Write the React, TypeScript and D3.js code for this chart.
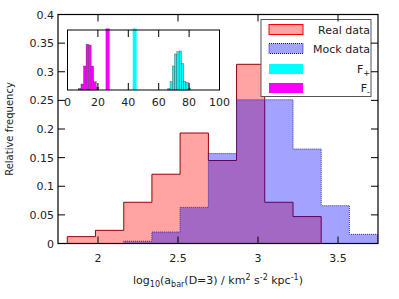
import React from "react";
import * as d3 from "d3";

// ---- data ----
const binEdges = [1.808, 1.984, 2.161, 2.337, 2.513, 2.69, 2.866, 3.042, 3.219, 3.395, 3.571, 3.747];
const realData = [0.012, 0.023, 0.072, 0.121, 0.193, 0.145, 0.313, 0.072, 0.047, 0, 0];
const mockData = [0, 0, 0.004, 0.02, 0.063, 0.157, 0.251, 0.251, 0.165, 0.066, 0.016];
const xTicks = [2, 2.5, 3, 3.5];
const yTicks = [0, 0.05, 0.1, 0.15, 0.2, 0.25, 0.3, 0.35, 0.4];

const insetMinusStart = 7.2;
const insetMinusWidth = 1.67;
const insetMinus = [2, 8, 32, 61, 60, 32, 11, 4];
const insetPlusStart = 66;
const insetPlusWidth = 1.49;
const insetPlus = [2, 11, 32, 48, 51, 52, 35, 11, 10, 2];
const fMinus = 26.4;
const fPlus = 44.2;
const insetTicks = [0, 20, 40, 60, 80, 100];

const legendItems = ["Real data", "Mock data", "F+", "F-"];

const W = 399, H = 299;
const M = { left: 58, right: 378, top: 14.5, bottom: 243.5 };
const FONT = "DejaVu Sans, sans-serif";

function stepPath(edges: number[], vals: number[], x: any, y: any) {
  const pts: [number, number][] = [[x(edges[0]), y(0)]];
  vals.forEach((v, i) => {
    pts.push([x(edges[i]), y(v)]);
    pts.push([x(edges[i + 1]), y(v)]);
  });
  pts.push([x(edges[edges.length - 1]), y(0)]);
  return d3.line()(pts) as string;
}

export default function App() {
  const x = d3.scaleLinear().domain([1.75, 3.75]).range([M.left, M.right]);
  const y = d3.scaleLinear().domain([0, 0.4]).range([M.bottom, M.top]);

  const ix = d3.scaleLinear().domain([0, 100]).range([67.5, 219.5]);
  const iy = d3.scaleLinear().domain([0, 80]).range([90, 30]);

  const redPath = stepPath(binEdges, realData, x, y);
  const bluePath = stepPath(binEdges, mockData, x, y);

  const tl = 7;

  const legX0 = 269, legX1 = 303, legTextX = 370;
  const legY = [29.5, 48.5, 69, 88];

  return (
    <svg width={W} height={H} style={{ position: "absolute", left: 0, top: 0, background: "#fff" }} fontFamily={FONT}>
      <rect x={0} y={0} width={W} height={H} fill="#fff" />
      {/* histograms */}
      <path d={redPath} fill="rgba(255,0,0,0.36)" stroke="#9a0000" strokeWidth={1} />
      <path d={bluePath} fill="rgba(0,0,255,0.36)" stroke="#3030a0" strokeWidth={1} strokeDasharray="1,1" />

      {/* inset */}
      <g>
        <rect x={ix(0)} y={iy(80)} width={ix(100) - ix(0)} height={iy(0) - iy(80)} fill="#fff" />
        {insetMinus.map((v, i) => (
          <rect key={"m" + i} x={ix(insetMinusStart + i * insetMinusWidth)} y={iy(v)}
            width={ix(insetMinusStart + (i + 1) * insetMinusWidth) - ix(insetMinusStart + i * insetMinusWidth)}
            height={iy(0) - iy(v)} fill="#ff00ff" stroke="#444" strokeWidth={0.4} />
        ))}
        {insetPlus.map((v, i) => (
          <rect key={"p" + i} x={ix(insetPlusStart + i * insetPlusWidth)} y={iy(v)}
            width={ix(insetPlusStart + (i + 1) * insetPlusWidth) - ix(insetPlusStart + i * insetPlusWidth)}
            height={iy(0) - iy(v)} fill="#00ffff" stroke="#444" strokeWidth={0.4} />
        ))}
        <line x1={ix(fMinus)} x2={ix(fMinus)} y1={iy(0)} y2={iy(80) - 1.5} stroke="#ff00ff" strokeWidth={4} />
        <line x1={ix(fPlus)} x2={ix(fPlus)} y1={iy(0)} y2={iy(80) - 1.5} stroke="#00ffff" strokeWidth={4} />
        <rect x={ix(0)} y={iy(80)} width={ix(100) - ix(0)} height={iy(0) - iy(80)} fill="none" stroke="#000" strokeWidth={1} />
        {insetTicks.slice(1, -1).map((t) => (
          <g key={"it" + t}>
            <line x1={ix(t)} x2={ix(t)} y1={iy(80)} y2={iy(80) + tl} stroke="#000" />
            <line x1={ix(t)} x2={ix(t)} y1={iy(0)} y2={iy(0) - tl} stroke="#000" />
          </g>
        ))}
        {insetTicks.map((t) => (
          <text key={"itl" + t} x={ix(t)} y={iy(0) + 15.5} textAnchor="middle" fontSize={11} fill="#222">{t}</text>
        ))}
      </g>

      {/* legend */}
      <g>
        <rect x={261} y={19.5} width={110} height={77} fill="#fff" stroke="#555" strokeWidth={1} />
        {legendItems.map((name, i) => {
          const yy = legY[i];
          let sw;
          if (i === 0) sw = <rect x={legX0} y={yy - 5} width={legX1 - legX0} height={10} fill="rgba(255,0,0,0.36)" stroke="#ff0000" strokeWidth={1} />;
          else if (i === 1) sw = <rect x={legX0} y={yy - 5} width={legX1 - legX0} height={10} fill="rgba(0,0,255,0.36)" stroke="#0000ff" strokeWidth={1} strokeDasharray="1,1" />;
          else if (i === 2) sw = <rect x={legX0} y={yy - 5} width={legX1 - legX0} height={10} fill="#00ffff" />;
          else sw = <rect x={legX0} y={yy - 5} width={legX1 - legX0} height={10} fill="#ff00ff" />;
          let label;
          if (i < 2) label = <text x={legTextX} y={yy + 4} textAnchor="end" fontSize={11} fill="#222">{name}</text>;
          else label = (
            <text x={legTextX} y={yy + 4} textAnchor="end" fontSize={11} fill="#222">
              F<tspan fontSize={8} dy={3}>{name.slice(1)}</tspan>
            </text>
          );
          return <g key={name}>{sw}{label}</g>;
        })}
      </g>

      {/* frame and ticks */}
      <rect x={M.left} y={M.top} width={M.right - M.left} height={M.bottom - M.top} fill="none" stroke="#000" strokeWidth={1.2} />
      {yTicks.map((t) => (
        <g key={"y" + t}>
          <line x1={M.left} x2={M.left + tl} y1={y(t)} y2={y(t)} stroke="#000" />
          <line x1={M.right} x2={M.right - tl} y1={y(t)} y2={y(t)} stroke="#000" />
          <text x={M.left - 4} y={y(t) + 4} textAnchor="end" fontSize={11} fill="#222">{String(t)}</text>
        </g>
      ))}
      {xTicks.map((t) => (
        <g key={"x" + t}>
          <line x1={x(t)} x2={x(t)} y1={M.bottom} y2={M.bottom - tl} stroke="#000" />
          <line x1={x(t)} x2={x(t)} y1={M.top} y2={M.top + tl} stroke="#000" />
          <text x={x(t)} y={M.bottom + 18} textAnchor="middle" fontSize={11} fill="#222">{String(t)}</text>
        </g>
      ))}

      {/* axis labels */}
      <text transform={`translate(13, ${(M.top + M.bottom) / 2}) rotate(-90)`} textAnchor="middle" fontSize={10} fill="#222">Relative frequency</text>
      <text x={(M.left + M.right) / 2} y={284} textAnchor="middle" fontSize={11} fill="#222">
        log<tspan fontSize={8} dy={3}>10</tspan><tspan dy={-3}>(a</tspan><tspan fontSize={8} dy={3}>bar</tspan><tspan dy={-3}>(D=3) / km</tspan><tspan fontSize={8} dy={-4}>2</tspan><tspan dy={4}> s</tspan><tspan fontSize={8} dy={-4}>-2</tspan><tspan dy={4}> kpc</tspan><tspan fontSize={8} dy={-4}>-1</tspan><tspan dy={4}>)</tspan>
      </text>
    </svg>
  );
}
